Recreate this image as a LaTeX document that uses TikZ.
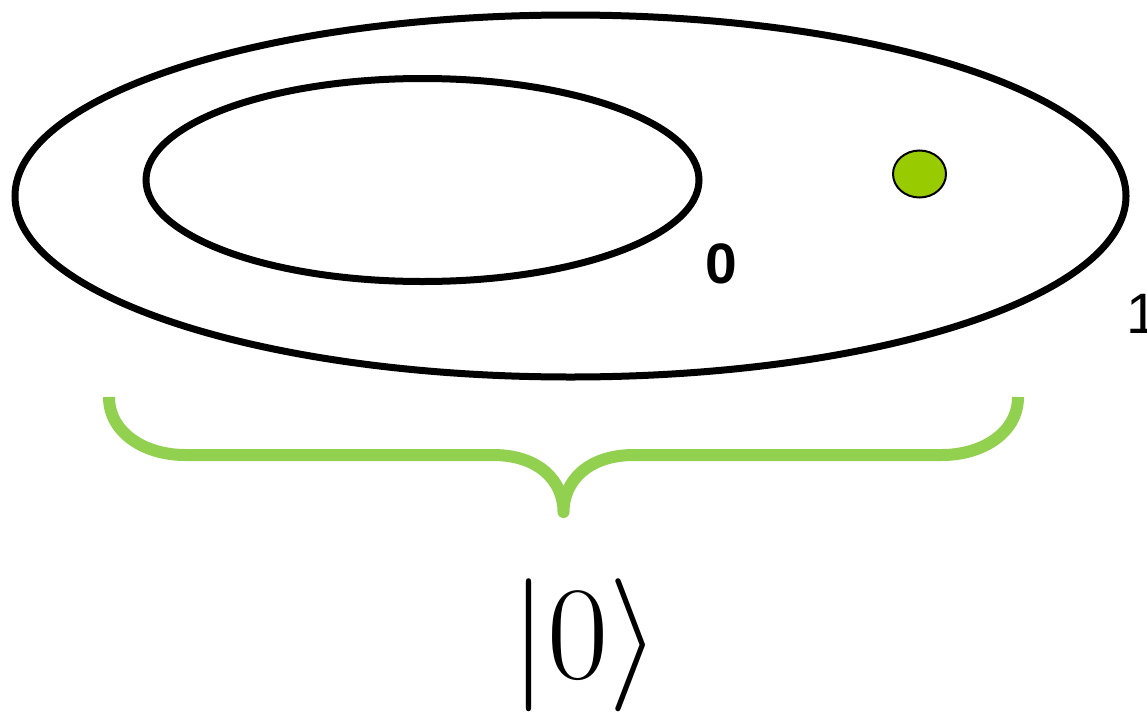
\RequirePackage{fix-cm}
\documentclass[tikz,border=0pt]{standalone}
\usepackage{fontspec}
\newfontfamily\arial{Liberation Sans}
\definecolor{dotgreen}{HTML}{99CC00}
\definecolor{bracegreen}{HTML}{92D050}
\begin{document}
\begin{tikzpicture}[x=1pt,y=-1pt,
  ring/.style={draw=black,line width=7pt},
  lbl/.style={inner sep=0pt,font=\arial\fontsize{57}{60}\selectfont},
  bracestyle/.style={draw=bracegreen,line width=12pt,line join=round,line cap=butt}]
\useasboundingbox (0,0) rectangle (1147,720);
\draw[ring] (570.5,196) ellipse [x radius=555.5,y radius=181];
\draw[ring] (422.5,180) ellipse [x radius=276.5,y radius=101.5];
\draw[draw=black,line width=2pt,fill=dotgreen] (919.5,174) ellipse [x radius=26.5,y radius=23.5];
\node[lbl,font=\arial\bfseries\fontsize{57}{60}\selectfont,anchor=base] (zero) at (721,283) {0};
\node[lbl,anchor=base west] (one) at (1126,333) {1};
\draw[bracestyle] (109,397) .. controls (109,433) and (145,455) .. (185,455)
  -- (493,455) .. controls (540,455) and (563.5,482) .. (563.5,512)
  .. controls (563.5,482) and (587,455) .. (634,455)
  -- (942,455) .. controls (982,455) and (1018,433) .. (1018,397);
\node[inner sep=0pt,anchor=base,font=\fontsize{133}{140}\selectfont] (ket) at (585,678) {$\bigl|0\bigr\rangle$};
\end{tikzpicture}
\end{document}
